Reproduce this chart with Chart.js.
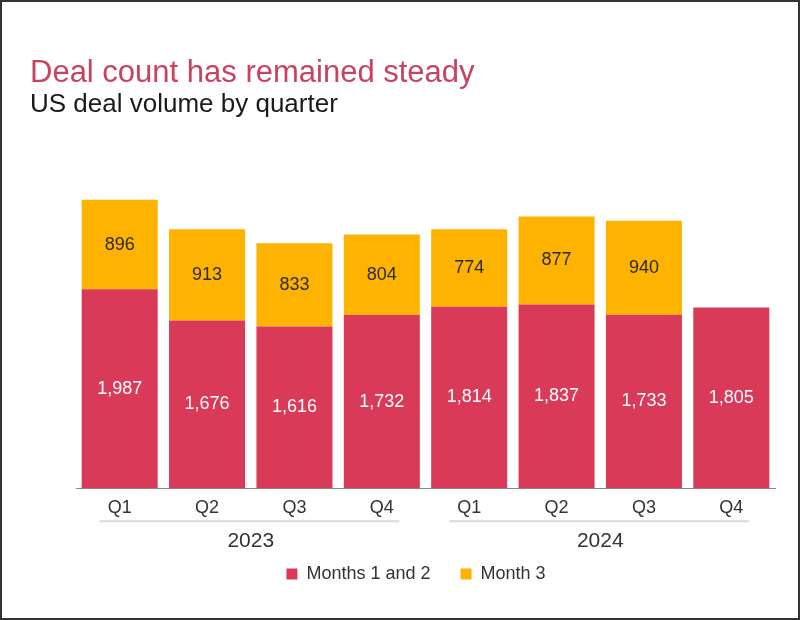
<!DOCTYPE html>
<html>
<head>
<meta charset="utf-8">
<script src="https://cdn.jsdelivr.net/npm/chart.js@4/dist/chart.umd.min.js"></script>
<style>
  html, body { margin: 0; padding: 0; background: #fff; }
  #frame { position: absolute; left: 0; top: 0; width: 800px; height: 620px; box-sizing: border-box; border: 2px solid #333; background: #fff; }
  #c { position: absolute; left: 0; top: 0; }
  .t { position: absolute; left: 30px; white-space: nowrap; font-family: "Liberation Sans", Arial, Helvetica, sans-serif; line-height: 1; }
  #title { top: 56px; font-size: 31px; color: #c9435f; }
  #subtitle { top: 90px; font-size: 26px; color: #1a1a1a; }
</style>
</head>
<body>
<div id="frame"></div>
<canvas id="c" width="800" height="620"></canvas>
<div class="t" id="title">Deal count has remained steady</div>
<div class="t" id="subtitle">US deal volume by quarter</div>
<script>
const quarters = ['Q1', 'Q2', 'Q3', 'Q4', 'Q1', 'Q2', 'Q3', 'Q4'];
const years = ['2023', '2024'];
const months12 = [1987, 1676, 1616, 1732, 1814, 1837, 1733, 1805];
const month3 = [896, 913, 833, 804, 774, 877, 940, null];
const seriesNames = ['Months 1 and 2', 'Month 3'];

const RED = '#d93a57';
const YELLOW = '#fdb300';
const FONT = '"Liberation Sans", Arial, Helvetica, sans-serif';

const valueLabels = {
  id: 'valueLabels',
  afterDatasetsDraw(chart) {
    const ctx = chart.ctx;
    ctx.save();
    ctx.font = '18px ' + FONT;
    ctx.textAlign = 'center';
    ctx.textBaseline = 'middle';
    chart.data.datasets.forEach((ds, di) => {
      const meta = chart.getDatasetMeta(di);
      meta.data.forEach((bar, i) => {
        const v = ds.data[i];
        if (v === null || v === undefined) return;
        const p = bar.getProps(['x', 'y', 'base'], true);
        ctx.fillStyle = di === 0 ? '#ffffff' : '#2b2b2b';
        ctx.fillText(v.toLocaleString('en-US'), p.x, (p.y + p.base) / 2);
      });
    });
    ctx.restore();
  }
};

const groupLines = {
  id: 'groupLines',
  afterDraw(chart) {
    const x = chart.scales.x;
    const ctx = chart.ctx;
    ctx.save();
    ctx.strokeStyle = '#d9d9d9';
    ctx.lineWidth = 2;
    const y = chart.chartArea.bottom + 33;
    const step = x.getPixelForValue(1) - x.getPixelForValue(0);
    years.forEach((yr, gi) => {
      const first = x.getPixelForValue(gi * 4);
      const last = x.getPixelForValue(gi * 4 + 3);
      ctx.beginPath();
      ctx.moveTo(first - step * 0.23, y);
      ctx.lineTo(last + step * 0.2, y);
      ctx.stroke();
    });
    ctx.restore();
  }
};

new Chart(document.getElementById('c'), {
  type: 'bar',
  data: {
    labels: quarters,
    datasets: [
      { label: seriesNames[0], data: months12, backgroundColor: RED, xAxisID: 'x', stack: 's' },
      { label: seriesNames[1], data: month3, backgroundColor: YELLOW, xAxisID: 'x', stack: 's' }
    ]
  },
  options: {
    responsive: false,
    devicePixelRatio: 1,
    animation: false,
    layout: { padding: { left: 40, right: 8, top: 188, bottom: 27 } },
    datasets: { bar: { categoryPercentage: 1, barPercentage: 0.87 } },
    scales: {
      x: {
        stacked: true,
        grid: { display: false, drawTicks: false },
        border: { display: true, color: '#8a8a8a', width: 1 },
        ticks: { color: '#333', font: { family: FONT, size: 18 }, padding: 9 }
      },
      x2: {
        type: 'category',
        labels: years,
        position: 'bottom',
        offset: true,
        grid: { display: false, drawTicks: false },
        border: { display: false },
        ticks: { color: '#333', font: { family: FONT, size: 21 }, padding: 1 }
      },
      y: {
        stacked: true, min: 0, max: 3000, position: 'left',
        grid: { display: false, drawTicks: false },
        border: { display: false },
        ticks: { display: false },
        afterFit(scale) { scale.width = 36; }
      },
      yR: {
        position: 'right', min: 0, max: 3000,
        grid: { display: false, drawTicks: false },
        border: { display: false },
        ticks: { display: false },
        afterFit(scale) { scale.width = 17; }
      }
    },
    plugins: {
      legend: {
        position: 'bottom',
        labels: {
          boxWidth: 11, boxHeight: 11, padding: 10, color: '#333',
          font: { family: FONT, size: 18 },
          generateLabels(chart) {
            const items = Chart.defaults.plugins.legend.labels.generateLabels(chart);
            items.forEach((it, i) => { if (i === 0) it.text = it.text + '    '; it.lineWidth = 0; });
            return items;
          }
        }
      },
      tooltip: { enabled: false },
      title: { display: false }
    }
  },
  plugins: [valueLabels, groupLines]
});
</script>
</body>
</html>
